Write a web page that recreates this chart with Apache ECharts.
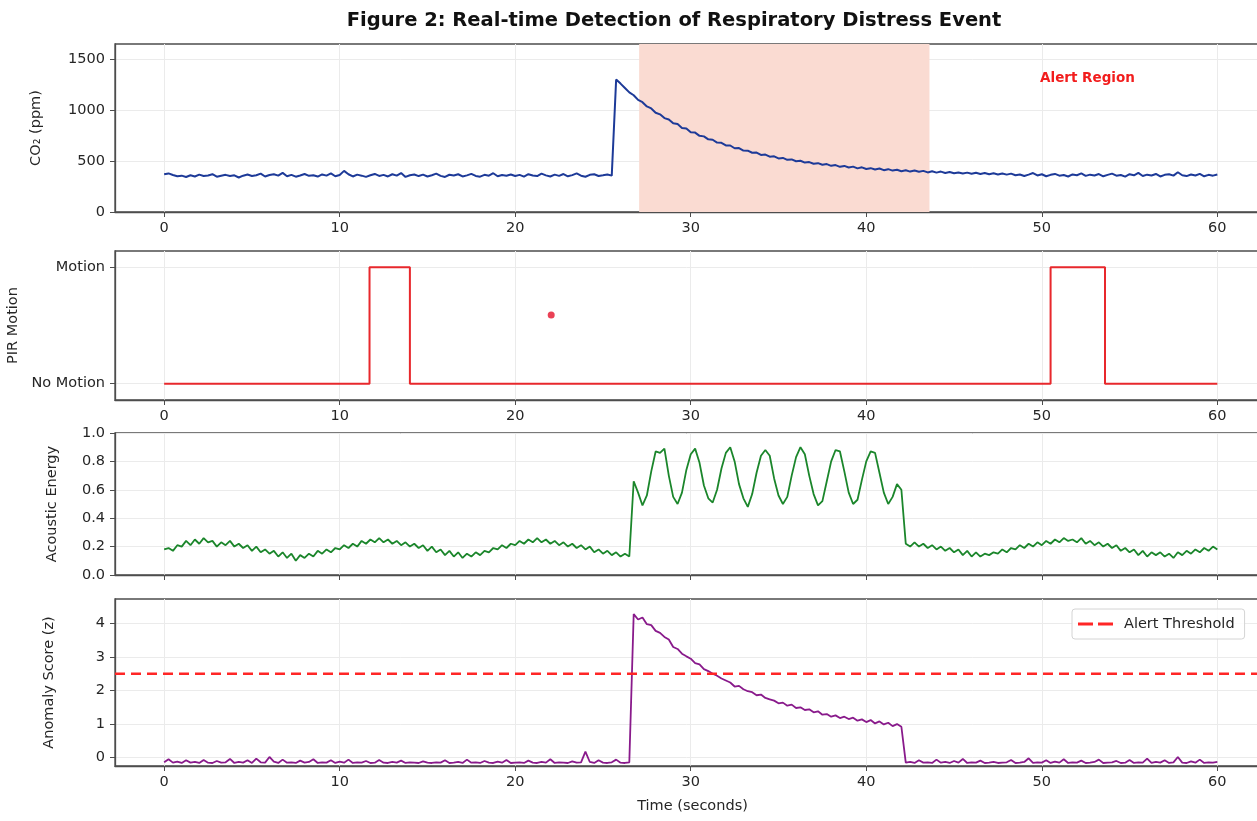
<!DOCTYPE html>
<html><head><meta charset="utf-8">
<script src="https://cdn.jsdelivr.net/npm/echarts@6/dist/echarts.min.js"></script>
<style>html,body{margin:0;padding:0;background:#fff}#c{width:1257px;height:821px}</style>
</head><body><div id="c"></div>
<script>
// ---- sampling ----
const timeStep = 0.25; // seconds between samples (t = index * timeStep)

// ---- CO2 (ppm) ----
const co2Values = [
372,380,365,352,358,345,362,350,368,355,360,372,348,357,366,354,361,340,358,369,
355,362,378,350,364,372,358,385,352,366,348,360,374,356,362,349,370,358,380,352,
365,405,372,350,368,358,346,362,375,355,366,350,372,358,384,346,362,370,354,368,
350,362,378,356,345,367,359,372,350,361,376,355,348,366,358,382,352,364,357,370,
355,366,349,372,360,354,378,361,350,368,356,374,352,363,380,358,347,366,372,355,362,370,358,
1305,1265,1222,1178,1150,1104,1082,1040,1020,978,
962,925,912,874,866,828,822,786,782,750,
745,716,712,684,681,656,655,628,630,605,
604,584,586,562,566,545,548,528,533,514,
518,500,505,487,492,475,481,465,472,455,
462,445,454,438,447,430,440,424,432,418,
428,412,422,408,416,402,411,398,408,396,
405,390,401,388,398,384,394,382,390,380,
388,376,386,375,384,372,381,370,380,368,
378,362,370,355,368,384,360,372,352,366,
375,358,364,350,370,362,380,356,368,360,
374,352,366,378,358,364,348,372,362,386,
355,368,360,375,350,366,372,358,392,362,
354,370,360,376,352,366,358,370
];

// ---- PIR motion (step signal) ----
const pirTimes  = [0, 11.7, 11.7, 14.0, 14.0, 50.5, 50.5, 53.6, 53.6, 60];
const pirStates = [0, 0,    1,    1,    0,    0,    1,    1,    0,    0];
const pirStrayPoint = [22.05, 0.59];
const pirTickLabels = ['No Motion', 'Motion'];

// ---- Acoustic energy ----
const acousticValues = [
0.18,0.19,0.17,0.21,0.20,0.24,0.21,0.25,0.22,0.26,
0.23,0.24,0.20,0.23,0.21,0.24,0.20,0.22,0.19,0.21,
0.17,0.20,0.16,0.18,0.15,0.17,0.13,0.16,0.12,0.15,
0.10,0.14,0.12,0.15,0.13,0.17,0.15,0.18,0.16,0.19,
0.18,0.21,0.19,0.22,0.20,0.24,0.22,0.25,0.23,0.26,
0.23,0.25,0.22,0.24,0.21,0.23,0.20,0.22,0.19,0.21,
0.17,0.20,0.16,0.18,0.14,0.17,0.13,0.16,0.12,0.15,
0.13,0.16,0.14,0.17,0.16,0.19,0.18,0.21,0.19,0.22,
0.21,0.24,0.22,0.25,0.23,0.26,0.23,0.25,0.22,0.24,
0.21,0.23,0.20,0.22,0.19,0.21,0.18,0.20,0.16,0.18,
0.15,0.17,0.14,0.16,0.13,0.15,0.13,
0.66,0.58,0.49,0.56,0.73,0.87,0.86,0.89,0.70,0.55,
0.50,0.58,0.74,0.85,0.89,0.79,0.63,0.54,0.51,0.60,
0.75,0.86,0.90,0.80,0.64,0.54,0.48,0.57,0.72,0.84,
0.88,0.84,0.68,0.56,0.50,0.55,0.70,0.83,0.90,0.85,
0.70,0.57,0.49,0.52,0.66,0.80,0.88,0.87,0.73,0.58,
0.50,0.53,0.67,0.80,0.87,0.86,0.72,0.58,0.50,0.55,
0.64,0.60,
0.22,0.20,0.23,0.20,0.22,0.19,0.21,0.18,0.20,0.17,
0.19,0.16,0.18,0.14,0.17,0.13,0.16,0.13,0.15,0.14,
0.16,0.15,0.18,0.16,0.19,0.18,0.21,0.19,0.22,0.20,
0.23,0.21,0.24,0.22,0.25,0.23,0.26,0.24,0.25,0.23,
0.26,0.22,0.24,0.21,0.23,0.20,0.22,0.19,0.21,0.17,
0.19,0.16,0.18,0.14,0.17,0.13,0.16,0.14,0.16,0.13,
0.15,0.12,0.16,0.14,0.17,0.15,0.18,0.16,0.19,0.17,
0.20,0.18
];

// ---- Anomaly score (z) ----
const anomalyValues = [
-0.14,-0.05,-0.15,-0.12,-0.16,-0.08,-0.15,-0.13,-0.16,-0.07,
-0.15,-0.16,-0.10,-0.15,-0.14,-0.04,-0.16,-0.13,-0.15,-0.08,
-0.16,-0.03,-0.14,-0.15,0.02,-0.12,-0.16,-0.06,-0.15,-0.14,
-0.16,-0.09,-0.15,-0.13,-0.05,-0.16,-0.14,-0.15,-0.08,-0.16,
-0.12,-0.15,-0.06,-0.16,-0.14,-0.15,-0.10,-0.16,-0.15,-0.07,
-0.15,-0.16,-0.13,-0.15,-0.09,-0.16,-0.14,-0.15,-0.16,-0.11,
-0.15,-0.16,-0.14,-0.15,-0.08,-0.16,-0.15,-0.13,-0.16,-0.06,
-0.15,-0.14,-0.16,-0.10,-0.15,-0.16,-0.12,-0.15,-0.07,-0.16,
-0.15,-0.14,-0.16,-0.09,-0.15,-0.16,-0.13,-0.15,-0.05,-0.16,
-0.14,-0.15,-0.16,-0.11,-0.15,-0.14,0.18,-0.13,-0.16,-0.08,
-0.15,-0.16,-0.14,-0.06,-0.15,-0.16,-0.14,
4.28,4.12,4.18,3.98,3.95,3.78,3.72,3.60,3.52,3.30,
3.24,3.10,3.02,2.95,2.82,2.78,2.64,2.58,2.50,2.44,
2.36,2.30,2.24,2.12,2.14,2.04,1.98,1.95,1.86,1.88,
1.78,1.74,1.70,1.62,1.64,1.55,1.58,1.48,1.50,1.42,
1.44,1.35,1.38,1.28,1.30,1.22,1.26,1.18,1.22,1.15,
1.19,1.10,1.14,1.06,1.12,1.02,1.08,0.99,1.04,0.94,
1.00,0.92,
-0.15,-0.13,-0.16,-0.08,-0.15,-0.14,-0.16,-0.06,-0.15,-0.13,
-0.16,-0.10,-0.15,-0.04,-0.16,-0.14,-0.15,-0.09,-0.16,-0.15,
-0.13,-0.16,-0.15,-0.14,-0.07,-0.16,-0.15,-0.13,-0.02,-0.16,
-0.14,-0.15,-0.08,-0.16,-0.12,-0.15,-0.05,-0.16,-0.14,-0.15,
-0.09,-0.16,-0.15,-0.13,-0.06,-0.16,-0.15,-0.14,-0.10,-0.16,
-0.15,-0.07,-0.16,-0.14,-0.15,-0.03,-0.16,-0.13,-0.15,-0.08,
-0.16,-0.14,0.02,-0.15,-0.16,-0.11,-0.15,-0.06,-0.16,-0.14,
-0.15,-0.13
];
const alertThreshold = 2.5;
const alertRegion = [27.06, 43.6];
const alertLabelAt = [52.6, 1320];

// ---- ticks ----
const xTicks = [0, 10, 20, 30, 40, 50, 60];
const co2Ticks = [0, 500, 1000, 1500];
const pirTicks = [0, 1];
const acousticTicks = [0, 0.2, 0.4, 0.6, 0.8, 1.0];
const anomalyTicks = [0, 1, 2, 3, 4];

// ---- build ----
const toXY = vals => vals.map((v, i) => [i * timeStep, v]);
const FONT = 'DejaVu Sans';
const TXT = '#262626';
const X_MIN = -2.8, X_MAX = 63;

const grids = [
  { left: 115, width: 1155, top: 44,  height: 168 },
  { left: 115, width: 1155, top: 251, height: 149 },
  { left: 115, width: 1155, top: 433, height: 142 },
  { left: 115, width: 1155, top: 599, height: 167 }
].map(g => Object.assign(g, {
  show: true, borderColor: '#4d4d4d', borderWidth: 1.3, backgroundColor: '#fff',
  containLabel: false, outerBoundsMode: 'none'
}));

function xAxis(i, showLabels) {
  return {
    type: 'value', gridIndex: i, min: X_MIN, max: X_MAX,
    axisLine: { show: true, onZero: false, lineStyle: { color: '#4d4d4d', width: 1.3 } },
    axisTick: { show: true, length: 5, customValues: xTicks, lineStyle: { color: '#4d4d4d' } },
    axisLabel: { show: showLabels, customValues: xTicks, margin: 9, fontFamily: FONT, fontSize: 14.5, color: TXT },
    splitLine: { show: true, lineStyle: { color: '#ebebeb', width: 1 } }
  };
}
function yAxis(i, min, max, ticks, name, gap, fmt) {
  return {
    type: 'value', gridIndex: i, min: min, max: max,
    name: name, nameLocation: 'middle', nameGap: gap,
    nameTextStyle: { fontFamily: FONT, fontSize: 14.5, color: TXT },
    axisLine: { show: true, onZero: false, lineStyle: { color: '#4d4d4d', width: 1.3 } },
    axisTick: { show: true, length: 5, customValues: ticks, lineStyle: { color: '#4d4d4d' } },
    axisLabel: { customValues: ticks, margin: 10, fontFamily: FONT, fontSize: 14.5, color: TXT, formatter: fmt },
    splitLine: { show: true, lineStyle: { color: '#ebebeb', width: 1 } }
  };
}

const xAxes = [xAxis(0, true), xAxis(1, true), xAxis(2, false), xAxis(3, true)];
xAxes[3].name = 'Time (seconds)';
xAxes[3].nameLocation = 'middle';
xAxes[3].nameGap = 33;
xAxes[3].nameTextStyle = { fontFamily: FONT, fontSize: 14.5, color: TXT };

const yAxes = [
  yAxis(0, 0, 1655, co2Ticks, 'CO₂ (ppm)', 71, v => String(v)),
  yAxis(1, -0.14, 1.14, pirTicks, 'PIR Motion', 86, v => pirTickLabels[Math.round(v)] || ''),
  yAxis(2, 0, 1, acousticTicks, 'Acoustic Energy', 55, v => v.toFixed(1)),
  yAxis(3, -0.25, 4.73, anomalyTicks, 'Anomaly Score (z)', 58, v => String(v))
];

const pirData = pirTimes.map((t, i) => [t, pirStates[i]]);

const option = {
  animation: false,
  backgroundColor: '#fff',
  title: {
    text: 'Figure 2: Real-time Detection of Respiratory Distress Event',
    left: 669, top: 6, textAlign: 'center',
    textStyle: { fontFamily: FONT, fontSize: 19.5, fontWeight: 'bold', color: '#111' }
  },
  legend: {
    data: [{ name: 'Alert Threshold', icon: 'path://M0,0 H15 V3 H0 Z M20,0 H35 V3 H20 Z' }],
    left: 1072, top: 609,
    padding: [7, 10, 7, 6],
    itemWidth: 35, itemHeight: 3, itemGap: 10,
    borderColor: '#d4d4d4', borderWidth: 1, borderRadius: 3,
    backgroundColor: 'rgba(255,255,255,0.85)',
    textStyle: { fontFamily: FONT, fontSize: 14.5, color: TXT, padding: [0, 0, 0, 6], lineHeight: 16 }
  },
  grid: grids,
  xAxis: xAxes,
  yAxis: yAxes,
  series: [
    {
      name: 'alertArea', type: 'line', xAxisIndex: 0, yAxisIndex: 0, z: 1,
      data: [], silent: true,
      markArea: {
        silent: true,
        itemStyle: { color: '#fadbd2' },
        data: [[{ xAxis: alertRegion[0] }, { xAxis: alertRegion[1] }]]
      },
      markPoint: {
        symbol: 'circle', symbolSize: 0, silent: true,
        label: { show: true, position: 'inside', formatter: 'Alert Region', color: '#f21d1d', fontWeight: 'bold', fontFamily: FONT, fontSize: 13.5 },
        data: [{ coord: alertLabelAt }]
      }
    },
    {
      name: 'CO2', type: 'line', xAxisIndex: 0, yAxisIndex: 0, z: 3,
      data: toXY(co2Values), showSymbol: false, symbol: 'none',
      lineStyle: { color: '#1d3a98', width: 2 }
    },
    {
      name: 'PIR', type: 'line', xAxisIndex: 1, yAxisIndex: 1, z: 3,
      data: pirData, showSymbol: false, symbol: 'none',
      lineStyle: { color: '#e8282c', width: 2 }
    },
    {
      name: 'PIR stray', type: 'scatter', xAxisIndex: 1, yAxisIndex: 1, z: 4,
      data: [pirStrayPoint], symbolSize: 7, itemStyle: { color: '#e5112a' }
    },
    {
      name: 'Acoustic', type: 'line', xAxisIndex: 2, yAxisIndex: 2, z: 3,
      data: toXY(acousticValues), showSymbol: false, symbol: 'none',
      lineStyle: { color: '#1b862b', width: 1.8 }
    },
    {
      name: 'Anomaly', type: 'line', xAxisIndex: 3, yAxisIndex: 3, z: 3,
      data: toXY(anomalyValues), showSymbol: false, symbol: 'none',
      lineStyle: { color: '#891a8b', width: 1.8 }
    },
    {
      name: 'Alert Threshold', type: 'line', xAxisIndex: 3, yAxisIndex: 3, z: 4,
      data: [[X_MIN, alertThreshold], [X_MAX, alertThreshold]],
      showSymbol: false, symbol: 'none',
      itemStyle: { color: '#ff2626' },
      lineStyle: { color: '#ff2626', width: 2.6, type: [10, 6] }
    }
  ]
};

const chart = echarts.init(document.getElementById('c'), null, { renderer: 'canvas' });
chart.setOption(option);
</script>
</body></html>
